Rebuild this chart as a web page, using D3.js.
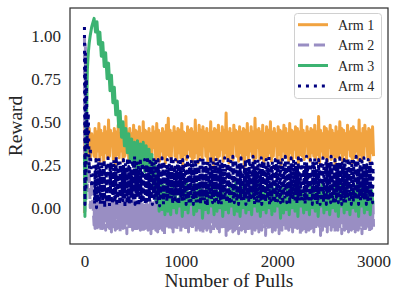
<!DOCTYPE html>
<meta charset="utf-8">
<script src="https://d3js.org/d3.v7.min.js"></script>
<style>
  body { margin: 0; background: #fff; }
  text { font-family: "Liberation Serif", serif; fill: #262626; }
</style>
<div id="my_dataviz"></div>
<script>

// pull indices (denser at the very start); each arm is read at its own step
var early = [0, 5, 10, 15, 20, 30, 40, 50, 60, 75];
var pullsCoarse = early.concat(d3.range(100, 3001, 15));
var pullsMid = early.concat(d3.range(100, 3001, 10));
var pullsFine = early.concat(d3.range(100, 3001, 5));

// Arm 1 reward estimates (pullsMid)
var arm1 = [-0.03, 0.50, 0.15, 0.45, 0.25, 0.42, 0.30, 0.46, 0.28, 0.43,
  0.30, 0.46, 0.28, 0.44, 0.33, 0.49, 0.27, 0.45, 0.31, 0.43,
  0.26, 0.47, 0.32, 0.44, 0.29, 0.51, 0.30, 0.45, 0.36, 0.43,
  0.28, 0.46, 0.25, 0.44, 0.31, 0.48, 0.29, 0.43, 0.33, 0.47,
  0.27, 0.45, 0.30, 0.53, 0.32, 0.44, 0.28, 0.46, 0.39, 0.43,
  0.29, 0.48, 0.26, 0.45, 0.31, 0.44, 0.34, 0.47, 0.28, 0.43,
  0.30, 0.50, 0.27, 0.45, 0.32, 0.44, 0.29, 0.46, 0.24, 0.43,
  0.31, 0.47, 0.35, 0.44, 0.28, 0.49, 0.30, 0.45, 0.27, 0.43,
  0.33, 0.46, 0.29, 0.44, 0.26, 0.48, 0.31, 0.52, 0.30, 0.45,
  0.28, 0.43, 0.37, 0.47, 0.30, 0.44, 0.27, 0.46, 0.32, 0.45,
  0.29, 0.49, 0.25, 0.44, 0.31, 0.43, 0.28, 0.47, 0.34, 0.45,
  0.30, 0.46, 0.27, 0.44, 0.29, 0.51, 0.32, 0.43, 0.26, 0.48,
  0.31, 0.45, 0.28, 0.47, 0.36, 0.44, 0.30, 0.46, 0.27, 0.43,
  0.33, 0.50, 0.29, 0.44, 0.25, 0.46, 0.31, 0.45, 0.28, 0.48,
  0.30, 0.43, 0.34, 0.47, 0.27, 0.45, 0.32, 0.55, 0.29, 0.44,
  0.26, 0.46, 0.31, 0.43, 0.28, 0.48, 0.38, 0.45, 0.30, 0.44,
  0.27, 0.47, 0.32, 0.44, 0.29, 0.46, 0.24, 0.45, 0.31, 0.49,
  0.28, 0.43, 0.33, 0.47, 0.30, 0.44, 0.27, 0.52, 0.29, 0.45,
  0.35, 0.46, 0.28, 0.44, 0.31, 0.48, 0.26, 0.43, 0.30, 0.47,
  0.29, 0.45, 0.32, 0.50, 0.27, 0.44, 0.30, 0.46, 0.37, 0.43,
  0.28, 0.47, 0.31, 0.45, 0.25, 0.44, 0.33, 0.48, 0.29, 0.46,
  0.30, 0.43, 0.27, 0.49, 0.32, 0.45, 0.28, 0.44, 0.34, 0.47,
  0.29, 0.46, 0.26, 0.44, 0.31, 0.51, 0.30, 0.45, 0.28, 0.43,
  0.36, 0.47, 0.29, 0.44, 0.27, 0.46, 0.32, 0.45, 0.30, 0.48,
  0.28, 0.44, 0.31, 0.53, 0.26, 0.45, 0.33, 0.43, 0.29, 0.47,
  0.30, 0.46, 0.27, 0.44, 0.35, 0.48, 0.28, 0.45, 0.31, 0.43,
  0.25, 0.47, 0.30, 0.44, 0.29, 0.50, 0.32, 0.46, 0.27, 0.45,
  0.31, 0.43, 0.28, 0.48, 0.34, 0.44, 0.30, 0.46, 0.26, 0.47,
  0.29, 0.45, 0.33, 0.44, 0.28, 0.51, 0.31, 0.43, 0.27, 0.46,
  0.30, 0.48, 0.36, 0.44, 0.29, 0.46, 0.27, 0.45, 0.32, 0.47,
  0.30];

// Arm 2 (pullsFine)
var arm2 = [1.00, -0.02, 0.95, 0.30, 0.60, 0.10, 0.28, 0.18, 0.00, 0.15,
  -0.10, 0.07, -0.12, 0.04, -0.08, 0.09, -0.13, 0.02, -0.06, 0.06,
  -0.11, 0.05, -0.09, 0.08, -0.14, 0.03, -0.07, 0.06, -0.12, 0.01,
  -0.10, 0.07, -0.03, 0.04, -0.13, 0.05, -0.09, 0.02, -0.11, 0.06,
  -0.08, 0.03, -0.12, 0.05, -0.10, 0.00, -0.14, 0.04, -0.07, 0.03,
  -0.11, 0.05, -0.09, 0.01, -0.13, 0.04, -0.05, 0.02, -0.12, 0.03,
  -0.10, 0.04, -0.08, 0.02, -0.14, 0.01, -0.11, 0.03, -0.09, 0.05,
  -0.12, 0.00, -0.07, 0.03, -0.13, 0.02, -0.10, 0.04, -0.15, 0.01,
  -0.09, 0.03, -0.11, 0.02, -0.04, 0.04, -0.12, 0.00, -0.10, 0.03,
  -0.13, 0.01, -0.08, 0.04, -0.11, 0.02, -0.14, 0.03, -0.09, 0.00,
  -0.12, 0.04, -0.10, 0.01, -0.06, 0.03, -0.13, 0.02, -0.11, 0.04,
  -0.08, 0.02, -0.14, 0.00, -0.10, 0.03, -0.12, 0.01, -0.09, 0.04,
  -0.11, 0.02, -0.13, 0.03, -0.05, 0.01, -0.10, 0.04, -0.15, 0.02,
  -0.09, 0.00, -0.12, 0.03, -0.11, 0.02, -0.08, 0.04, -0.13, 0.01,
  -0.10, 0.03, -0.14, 0.02, -0.09, 0.00, -0.12, 0.04, -0.07, 0.02,
  -0.11, 0.01, -0.13, 0.03, -0.10, 0.02, -0.16, 0.01, -0.09, 0.03,
  -0.12, 0.04, -0.08, 0.00, -0.11, 0.02, -0.13, 0.03, -0.04, 0.01,
  -0.10, 0.03, -0.12, 0.02, -0.14, 0.04, -0.09, 0.01, -0.11, 0.02,
  -0.08, 0.00, -0.13, 0.03, -0.10, 0.02, -0.12, 0.04, -0.09, 0.01,
  -0.15, 0.02, -0.11, 0.03, -0.06, 0.01, -0.12, 0.04, -0.10, 0.02,
  -0.13, 0.00, -0.09, 0.03, -0.11, 0.02, -0.14, 0.01, -0.08, 0.04,
  -0.12, 0.02, -0.10, 0.03, -0.13, 0.00, -0.05, 0.02, -0.11, 0.04,
  -0.09, 0.01, -0.14, 0.03, -0.12, 0.02, -0.10, 0.04, -0.08, 0.01,
  -0.13, 0.03, -0.11, 0.00, -0.09, 0.02, -0.15, 0.03, -0.12, 0.01,
  -0.10, 0.04, -0.07, 0.02, -0.13, 0.01, -0.11, 0.03, -0.09, 0.00,
  -0.12, 0.02, -0.14, 0.04, -0.10, 0.01, -0.08, 0.03, -0.13, 0.02,
  -0.11, 0.00, -0.09, 0.03, -0.04, 0.02, -0.12, 0.01, -0.10, 0.04,
  -0.14, 0.02, -0.11, 0.03, -0.13, 0.00, -0.09, 0.02, -0.12, 0.04,
  -0.08, 0.01, -0.10, 0.03, -0.16, 0.02, -0.11, 0.00, -0.13, 0.03,
  -0.09, 0.02, -0.12, 0.04, -0.10, 0.01, -0.07, 0.03, -0.14, 0.02,
  -0.11, 0.00, -0.13, 0.03, -0.09, 0.02, -0.12, 0.04, -0.10, 0.01,
  -0.15, 0.03, -0.08, 0.02, -0.11, 0.00, -0.13, 0.03, -0.06, 0.02,
  -0.12, 0.04, -0.10, 0.01, -0.14, 0.03, -0.09, 0.02, -0.11, 0.00,
  -0.13, 0.03, -0.10, 0.02, -0.08, 0.04, -0.12, 0.01, -0.15, 0.03,
  -0.09, 0.02, -0.11, 0.00, -0.13, 0.03, -0.10, 0.02, -0.05, 0.04,
  -0.12, 0.01, -0.14, 0.03, -0.09, 0.02, -0.11, 0.00, -0.13, 0.04,
  -0.10, 0.02, -0.08, 0.03, -0.12, 0.01, -0.16, 0.02, -0.09, 0.03,
  -0.11, 0.00, -0.13, 0.04, -0.10, 0.02, -0.12, 0.01, -0.07, 0.03,
  -0.14, 0.02, -0.09, 0.03, -0.11, 0.00, -0.13, 0.02, -0.10, 0.04,
  -0.12, 0.01, -0.08, 0.03, -0.15, 0.02, -0.11, 0.00, -0.09, 0.03,
  -0.13, 0.02, -0.10, 0.04, -0.12, 0.01, -0.06, 0.03, -0.14, 0.02,
  -0.09, 0.00, -0.11, 0.03, -0.13, 0.02, -0.10, 0.01, -0.12, 0.04,
  -0.08, 0.02, -0.14, 0.03, -0.11, 0.00, -0.09, 0.02, -0.13, 0.03,
  -0.10, 0.01, -0.12, 0.04, -0.05, 0.02, -0.11, 0.03, -0.15, 0.00,
  -0.09, 0.03, -0.13, 0.02, -0.10, 0.01, -0.12, 0.04, -0.08, 0.02,
  -0.14, 0.00, -0.11, 0.03, -0.09, 0.02, -0.13, 0.01, -0.10, 0.03,
  -0.12, 0.04, -0.07, 0.02, -0.11, 0.00, -0.14, 0.03, -0.09, 0.01,
  -0.13, 0.02, -0.10, 0.03, -0.12, 0.01, -0.08, 0.04, -0.11, 0.02,
  -0.16, 0.00, -0.09, 0.03, -0.13, 0.02, -0.10, 0.01, -0.12, 0.03,
  -0.06, 0.02, -0.11, 0.04, -0.14, 0.01, -0.09, 0.03, -0.12, 0.00,
  -0.10, 0.02, -0.13, 0.03, -0.08, 0.01, -0.11, 0.04, -0.12, 0.02,
  -0.14, 0.00, -0.09, 0.03, -0.11, 0.02, -0.13, 0.01, -0.05, 0.03,
  -0.12, 0.02, -0.10, 0.04, -0.15, 0.01, -0.09, 0.03, -0.11, 0.00,
  -0.13, 0.03, -0.08, 0.02, -0.12, 0.01, -0.10, 0.04, -0.14, 0.02,
  -0.09, 0.00, -0.11, 0.03, -0.13, 0.02, -0.07, 0.01, -0.12, 0.03,
  -0.10, 0.02, -0.14, 0.04, -0.11, 0.01, -0.09, 0.03, -0.13, 0.00,
  -0.12, 0.02, -0.08, 0.03, -0.10, 0.01, -0.15, 0.02, -0.11, 0.04,
  -0.09, 0.00, -0.13, 0.03, -0.12, 0.02, -0.10, 0.01, -0.06, 0.03,
  -0.11, 0.02, -0.14, 0.01, -0.09, 0.03, -0.12, 0.00, -0.10, 0.02,
  -0.11];

// Arm 3 (pullsCoarse)
var arm3 = [0.30, -0.05, 0.20, 0.05, 0.45, 0.80, 0.90, 0.96, 1.00, 1.05,
  1.10, 1.02, 1.08, 0.95, 1.02, 0.88, 0.96, 0.82, 0.90, 0.75,
  0.84, 0.68, 0.77, 0.61, 0.70, 0.54, 0.62, 0.47, 0.56, 0.41,
  0.50, 0.36, 0.46, 0.32, 0.43, 0.28, 0.40, 0.25, 0.38, 0.23,
  0.39, 0.22, 0.37, 0.24, 0.38, 0.21, 0.36, 0.22, 0.34, 0.19,
  0.31, 0.12, 0.26, 0.04, 0.18, -0.02, 0.15, -0.01, 0.13, -0.04,
  0.13, -0.02, 0.09, -0.04, 0.14, 0.00, 0.11, -0.03, 0.05, 0.01,
  0.12, -0.05, 0.10, -0.01, 0.15, -0.03, 0.08, 0.02, 0.13, -0.04,
  0.09, -0.02, 0.14, 0.00, 0.11, -0.06, 0.06, -0.01, 0.12, -0.03,
  0.15, 0.01, 0.10, -0.04, 0.13, -0.02, 0.09, 0.00, 0.14, -0.05,
  0.11, -0.01, 0.07, -0.03, 0.13, 0.01, 0.10, -0.04, 0.15, -0.02,
  0.09, -0.05, 0.12, 0.00, 0.14, -0.03, 0.05, -0.01, 0.11, -0.04,
  0.13, 0.01, 0.09, -0.02, 0.15, -0.05, 0.10, -0.01, 0.12, -0.03,
  0.08, 0.00, 0.14, -0.04, 0.11, -0.02, 0.13, 0.01, 0.09, -0.06,
  0.12, -0.03, 0.06, -0.01, 0.14, -0.04, 0.10, 0.00, 0.13, -0.02,
  0.11, -0.05, 0.15, 0.01, 0.09, -0.03, 0.12, -0.01, 0.08, -0.04,
  0.14, 0.00, 0.10, -0.02, 0.13, -0.05, 0.11, 0.01, 0.15, -0.03,
  0.09, -0.01, 0.12, -0.04, 0.07, 0.00, 0.14, -0.02, 0.10, -0.05,
  0.13, 0.01, 0.11, -0.03, 0.15, -0.01, 0.09, -0.04, 0.12, 0.00,
  0.10, -0.02, 0.14, -0.05, 0.11, 0.01, 0.13, -0.03, 0.08, -0.01,
  0.12, -0.04, 0.10, 0.02];

// Arm 4 (pullsFine)
var arm4 = [1.05, 0.02, 0.90, 0.10, 0.75, 0.35, 0.55, 0.20, 0.35, 0.12,
  0.26, 0.02, 0.21, 0.06, 0.28, 0.00, 0.17, 0.04, 0.25, 0.09,
  0.29, 0.03, 0.23, 0.01, 0.19, 0.07, 0.27, 0.12, 0.02, 0.24,
  0.05, 0.28, 0.00, 0.22, 0.08, 0.26, 0.03, 0.20, 0.06, 0.29,
  0.04, 0.18, 0.01, 0.25, 0.10, 0.27, 0.05, 0.23, 0.02, 0.21,
  0.07, 0.28, 0.14, 0.03, 0.24, 0.06, 0.30, 0.01, 0.19, 0.05,
  0.26, 0.08, 0.22, 0.02, 0.27, 0.11, 0.04, 0.25, 0.07, 0.20,
  0.03, 0.28, 0.06, 0.23, 0.00, 0.26, 0.09, 0.21, 0.04, 0.29,
  0.13, 0.05, 0.24, 0.02, 0.27, 0.07, 0.22, 0.03, 0.18, 0.06,
  0.28, 0.04, 0.25, 0.10, 0.30, 0.02, 0.20, 0.06, 0.26, 0.03,
  0.23, 0.08, 0.27, 0.01, 0.21, 0.05, 0.29, 0.12, 0.04, 0.24,
  0.06, 0.26, 0.03, 0.19, 0.07, 0.28, 0.02, 0.22, 0.09, 0.25,
  0.04, 0.30, 0.06, 0.23, 0.15, 0.03, 0.27, 0.05, 0.21, 0.08,
  0.26, 0.02, 0.24, 0.07, 0.29, 0.04, 0.18, 0.06, 0.27, 0.11,
  0.03, 0.22, 0.05, 0.28, 0.08, 0.25, 0.01, 0.20, 0.06, 0.26,
  0.10, 0.29, 0.04, 0.23, 0.02, 0.27, 0.07, 0.21, 0.14, 0.05,
  0.25, 0.03, 0.28, 0.06, 0.22, 0.09, 0.26, 0.04, 0.19, 0.07,
  0.30, 0.05, 0.24, 0.02, 0.27, 0.12, 0.06, 0.23, 0.03, 0.28,
  0.08, 0.21, 0.04, 0.26, 0.07, 0.29, 0.02, 0.24, 0.10, 0.27,
  0.05, 0.22, 0.16, 0.03, 0.28, 0.06, 0.25, 0.04, 0.20, 0.08,
  0.27, 0.02, 0.23, 0.07, 0.30, 0.05, 0.19, 0.03, 0.26, 0.09,
  0.24, 0.04, 0.28, 0.11, 0.06, 0.25, 0.02, 0.22, 0.07, 0.29,
  0.05, 0.26, 0.03, 0.21, 0.08, 0.27, 0.13, 0.04, 0.24, 0.06,
  0.28, 0.02, 0.20, 0.07, 0.26, 0.04, 0.29, 0.09, 0.23, 0.05,
  0.18, 0.03, 0.27, 0.06, 0.24, 0.01, 0.28, 0.10, 0.21, 0.04,
  0.26, 0.07, 0.30, 0.15, 0.05, 0.23, 0.03, 0.27, 0.06, 0.22,
  0.02, 0.25, 0.08, 0.29, 0.04, 0.19, 0.07, 0.26, 0.03, 0.24,
  0.11, 0.28, 0.05, 0.22, 0.02, 0.27, 0.06, 0.25, 0.09, 0.20,
  0.04, 0.29, 0.07, 0.23, 0.14, 0.03, 0.26, 0.05, 0.28, 0.08,
  0.21, 0.02, 0.25, 0.06, 0.27, 0.04, 0.22, 0.10, 0.30, 0.05,
  0.24, 0.03, 0.19, 0.07, 0.28, 0.12, 0.04, 0.26, 0.06, 0.23,
  0.02, 0.27, 0.08, 0.25, 0.05, 0.29, 0.03, 0.21, 0.07, 0.26,
  0.13, 0.04, 0.24, 0.06, 0.28, 0.02, 0.22, 0.09, 0.27, 0.05,
  0.20, 0.03, 0.29, 0.07, 0.25, 0.04, 0.18, 0.06, 0.26, 0.11,
  0.30, 0.05, 0.23, 0.02, 0.27, 0.08, 0.24, 0.04, 0.21, 0.06,
  0.28, 0.15, 0.03, 0.25, 0.07, 0.22, 0.05, 0.29, 0.02, 0.26,
  0.09, 0.24, 0.04, 0.27, 0.06, 0.20, 0.03, 0.28, 0.10, 0.23,
  0.05, 0.26, 0.07, 0.31, 0.02, 0.22, 0.12, 0.04, 0.25, 0.06,
  0.27, 0.03, 0.24, 0.08, 0.19, 0.05, 0.28, 0.02, 0.26, 0.07,
  0.22, 0.04, 0.29, 0.10, 0.25, 0.06, 0.21, 0.03, 0.27, 0.14,
  0.05, 0.28, 0.02, 0.23, 0.07, 0.26, 0.04, 0.30, 0.08, 0.24,
  0.03, 0.20, 0.06, 0.27, 0.11, 0.25, 0.02, 0.22, 0.05, 0.29,
  0.07, 0.26, 0.16, 0.04, 0.28, 0.06, 0.23, 0.03, 0.27, 0.09,
  0.21, 0.02, 0.25, 0.05, 0.29, 0.08, 0.24, 0.04, 0.19, 0.06,
  0.28, 0.03, 0.26, 0.12, 0.05, 0.22, 0.07, 0.27, 0.02, 0.25,
  0.06, 0.30, 0.04, 0.23, 0.09, 0.26, 0.03, 0.21, 0.07, 0.28,
  0.14, 0.05, 0.24, 0.02, 0.27, 0.06, 0.25, 0.10, 0.29, 0.04,
  0.22, 0.07, 0.26, 0.03, 0.20, 0.05, 0.28, 0.08, 0.23, 0.02,
  0.27, 0.11, 0.04, 0.25, 0.06, 0.29, 0.03, 0.24, 0.07, 0.21,
  0.05, 0.26, 0.02, 0.28, 0.09, 0.22, 0.04, 0.27, 0.13, 0.06,
  0.25, 0.03, 0.30, 0.07, 0.24, 0.05, 0.19, 0.02, 0.26, 0.08,
  0.28, 0.04, 0.23, 0.06, 0.27, 0.10, 0.25, 0.03, 0.21, 0.07,
  0.29, 0.15, 0.05, 0.24, 0.02, 0.26, 0.08, 0.22, 0.04, 0.28,
  0.06, 0.25, 0.03, 0.27, 0.07, 0.20, 0.05, 0.29, 0.11, 0.23,
  0.04, 0.26, 0.08, 0.24, 0.02, 0.28, 0.06, 0.21, 0.03, 0.27,
  0.12, 0.05, 0.25, 0.07, 0.30, 0.04, 0.22, 0.09, 0.26, 0.02,
  0.23, 0.06, 0.28, 0.03, 0.19, 0.07, 0.27, 0.05, 0.24, 0.10,
  0.29, 0.04, 0.21, 0.06, 0.26, 0.02, 0.25, 0.13, 0.03, 0.28,
  0.07, 0.22, 0.05, 0.27, 0.04, 0.24, 0.08, 0.26, 0.03, 0.23,
  0.20];

var armNames = ["Arm 1", "Arm 2", "Arm 3", "Arm 4"];
var xTicks = [0, 1000, 2000, 3000];
var yTicks = [0.00, 0.25, 0.50, 0.75, 1.00];

// style per arm
var colors = ["#f1a340", "#998ec3", "#3cb371", "#000080"];
var dashes = [null, "11.1,4.8", null, "3,4.95"];

var W = 399, H = 300;
var box = {left: 70, right: 388, top: 8, bottom: 244};

var svg = d3.select("#my_dataviz")
  .append("svg")
  .attr("width", W)
  .attr("height", H);

var x = d3.scaleLinear().domain([-150, 3150]).range([box.left, box.right]);
var y = d3.scaleLinear().domain([-0.21, 1.16]).range([box.bottom, box.top]);

svg.append("clipPath").attr("id", "clip")
  .append("rect")
  .attr("x", box.left).attr("y", box.top)
  .attr("width", box.right - box.left).attr("height", box.bottom - box.top);

// lines
var series = [
  {values: arm1, pulls: pullsMid},
  {values: arm2, pulls: pullsFine},
  {values: arm3, pulls: pullsCoarse},
  {values: arm4, pulls: pullsFine}
];

var plot = svg.append("g").attr("clip-path", "url(#clip)");
series.forEach(function(s, k) {
  var line = d3.line()
    .defined(function(d, i) { return i < s.pulls.length; })
    .x(function(d, i) { return x(s.pulls[i]); })
    .y(function(d) { return y(d); });
  plot.append("path")
    .attr("d", line(s.values))
    .attr("fill", "none")
    .attr("stroke", colors[k])
    .attr("stroke-width", 3)
    .attr("stroke-linejoin", "round")
    .attr("stroke-dasharray", dashes[k]);
});

// axes frame
svg.append("rect")
  .attr("x", box.left).attr("y", box.top)
  .attr("width", box.right - box.left).attr("height", box.bottom - box.top)
  .attr("fill", "none")
  .attr("stroke", "#333")
  .attr("stroke-width", 1.25);

// x tick labels
var xAxis = svg.append("g")
  .attr("transform", "translate(0," + box.bottom + ")")
  .call(d3.axisBottom(x).tickValues(xTicks).tickSize(0).tickPadding(0).tickFormat(d3.format("d")));
xAxis.select(".domain").remove();
xAxis.selectAll("text")
  .attr("y", 23).attr("dy", null)
  .style("font-family", "Liberation Serif").style("font-size", "17px").attr("fill", "#262626");

// y tick labels
var yAxis = svg.append("g")
  .attr("transform", "translate(" + box.left + ",0)")
  .call(d3.axisLeft(y).tickValues(yTicks).tickSize(0).tickPadding(9).tickFormat(d3.format(".2f")));
yAxis.select(".domain").remove();
yAxis.selectAll("text")
  .style("font-family", "Liberation Serif").style("font-size", "17px").attr("fill", "#262626");

// axis labels
svg.append("text")
  .attr("text-anchor", "middle")
  .attr("x", (box.left + box.right) / 2)
  .attr("y", 287)
  .style("font-size", "19.5px")
  .text("Number of Pulls");

svg.append("text")
  .attr("text-anchor", "middle")
  .attr("transform", "translate(22," + (box.top + box.bottom) / 2 + ") rotate(-90)")
  .style("font-size", "19.5px")
  .text("Reward");

// legend
var legend = svg.append("g");
legend.append("rect")
  .attr("x", 294.5).attr("y", 13.5)
  .attr("width", 87).attr("height", 85)
  .attr("rx", 3)
  .attr("fill", "#fff")
  .attr("stroke", "#d0d0d0")
  .attr("stroke-width", 1);

armNames.forEach(function(name, k) {
  var ly = 24.7 + k * 20.4;
  legend.append("line")
    .attr("x1", 298).attr("x2", 328)
    .attr("y1", ly).attr("y2", ly)
    .attr("stroke", colors[k])
    .attr("stroke-width", 3)
    .attr("stroke-dasharray", dashes[k]);
  legend.append("text")
    .attr("x", 338)
    .attr("y", ly + 5)
    .style("font-size", "14px")
    .text(name);
});

</script>
